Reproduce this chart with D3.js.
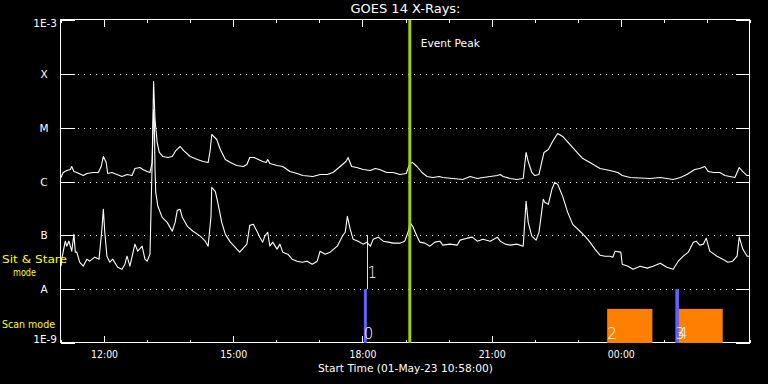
<!DOCTYPE html>
<html>
<head>
<meta charset="utf-8">
<script src="https://cdn.jsdelivr.net/npm/d3@7"></script>
<style>
  body { margin: 0; background: #000; }
  svg { display: block; background: #000; }
  text { font-family: "DejaVu Sans", sans-serif; fill: #fff; }
</style>
</head>
<body>
<svg id="chart" width="768" height="384"></svg>
<script>
// GOES 14 X-ray flux, 1-8 A (long) and 0.5-4 A (short) channels, W/m^2
const longTimes = ["11:00","11:03","11:08","11:13","11:15","11:18","11:22","11:31","11:36","11:45",
  "11:52","11:56","11:59","12:03","12:05","12:11","12:18","12:25","12:32","12:39",
  "12:43","12:50","12:54","13:00","13:04","13:07","13:09","13:11","13:14","13:17",
  "13:22","13:29","13:35","13:40","13:46","13:51","14:00","14:10","14:18","14:25",
  "14:28","14:30","14:37","14:42","14:49","14:56","15:05","15:14","15:19","15:23",
  "15:29","15:35","15:41","15:46","15:48","15:51","16:01","16:09","16:19","16:29",
  "16:37","16:51","17:01","17:11","17:19","17:29","17:37","17:40","17:45","17:52",
  "18:01","18:11","18:18","18:24","18:34","18:43","18:52","19:01","19:06","19:10",
  "19:16","19:23","19:30","19:38","19:47","19:52","20:06","20:20","20:30","20:40",
  "20:48","20:58","21:08","21:12","21:16","21:26","21:35","21:44","21:48","21:51",
  "21:56","22:00","22:06","22:10","22:13","22:19","22:25","22:32","22:39","22:49",
  "22:59","23:07","23:17","23:31","23:45","23:56","00:02","00:13","00:41","00:55",
  "01:04","01:13","01:23","01:32","01:43","01:50","01:57","02:02","02:09","02:18",
  "02:25","02:39","02:45","02:50","02:56","03:00"];
const longFlux = [1.19e-6,1.47e-6,1.60e-6,1.67e-6,1.90e-6,1.53e-6,1.47e-6,1.29e-6,1.41e-6,1.47e-6,
  1.47e-6,1.90e-6,2.91e-6,2.25e-6,1.41e-6,1.47e-6,1.35e-6,1.24e-6,1.35e-6,1.29e-6,
  1.74e-6,1.82e-6,1.67e-6,1.53e-6,1.47e-6,2.25e-6,7.16e-5,1.41e-5,5.30e-6,3.46e-6,
  2.91e-6,2.79e-6,2.91e-6,3.76e-6,4.47e-6,3.76e-6,2.91e-6,2.56e-6,2.35e-6,2.25e-6,
  3.93e-6,7.47e-6,6.03e-6,3.93e-6,2.56e-6,2.25e-6,1.98e-6,1.90e-6,2.07e-6,2.79e-6,
  2.79e-6,2.56e-6,2.35e-6,2.25e-6,2.56e-6,2.16e-6,1.98e-6,1.90e-6,1.53e-6,1.41e-6,
  1.29e-6,1.24e-6,1.35e-6,1.35e-6,1.47e-6,1.90e-6,2.35e-6,2.79e-6,1.90e-6,1.82e-6,
  1.67e-6,1.60e-6,1.74e-6,1.67e-6,1.47e-6,1.47e-6,1.35e-6,1.41e-6,2.16e-6,2.25e-6,
  1.90e-6,1.47e-6,1.24e-6,1.19e-6,1.24e-6,1.19e-6,1.14e-6,1.09e-6,1.24e-6,1.14e-6,
  1.19e-6,1.24e-6,1.29e-6,1.35e-6,1.24e-6,1.14e-6,1.09e-6,1.14e-6,3.46e-6,2.35e-6,
  1.47e-6,1.29e-6,1.35e-6,2.35e-6,3.46e-6,3.93e-6,5.54e-6,7.79e-6,6.86e-6,4.87e-6,
  3.46e-6,2.67e-6,2.25e-6,1.74e-6,1.60e-6,1.47e-6,1.29e-6,1.19e-6,1.14e-6,1.19e-6,
  1.14e-6,1.09e-6,1.19e-6,1.35e-6,1.67e-6,1.74e-6,1.90e-6,1.53e-6,1.47e-6,1.47e-6,
  1.29e-6,1.19e-6,1.82e-6,1.53e-6,1.29e-6,1.29e-6];

const shortTimes = ["11:00","11:01","11:06","11:08","11:11","11:15","11:18","11:20","11:22","11:26",
  "11:31","11:36","11:40","11:47","11:53","11:57","11:59","12:01","12:04","12:08",
  "12:12","12:19","12:25","12:29","12:32","12:36","12:43","12:47","12:53","12:57",
  "13:00","13:04","13:07","13:09","13:10","13:11","13:12","13:15","13:21","13:28",
  "13:35","13:39","13:42","13:46","13:49","13:56","14:04","14:14","14:21","14:25",
  "14:29","14:30","14:35","14:39","14:44","14:49","14:56","15:00","15:05","15:09",
  "15:14","15:19","15:23","15:28","15:33","15:37","15:41","15:44","15:48","15:51",
  "15:55","16:01","16:05","16:09","16:16","16:22","16:29","16:36","16:43","16:50",
  "16:57","17:01","17:08","17:15","17:25","17:32","17:36","17:39","17:43","17:47",
  "17:54","18:01","18:06","18:11","18:15","18:22","18:29","18:36","18:43","18:52",
  "18:59","19:04","19:06","19:10","19:16","19:20","19:27","19:34","19:41","19:48",
  "19:52","20:02","20:12","20:16","20:26","20:33","20:40","20:48","20:58","21:08",
  "21:12","21:19","21:26","21:35","21:44","21:48","21:51","21:56","22:02","22:06",
  "22:12","22:14","22:19","22:24","22:28","22:32","22:39","22:46","22:53","23:03",
  "23:10","23:17","23:24","23:31","23:38","23:45","23:49","23:52","00:00","00:02",
  "00:10","00:17","00:27","00:37","00:45","00:55","01:04","01:13","01:20","01:27",
  "01:34","01:41","01:45","01:50","01:55","01:59","02:04","02:14","02:22","02:29",
  "02:36","02:42","02:45","02:50","02:56","03:00"];
const shortFlux = [2.67e-8,3.61e-8,7.79e-8,6.29e-8,7.79e-8,5.08e-8,1.04e-7,4.87e-8,4.87e-8,3.17e-8,
  2.67e-8,3.61e-8,3.31e-8,3.93e-8,3.61e-8,1.29e-7,3.04e-7,1.14e-7,4.10e-8,3.17e-8,
  3.61e-8,2.56e-8,2.35e-8,2.91e-8,4.10e-8,2.67e-8,6.86e-8,5.08e-8,6.29e-8,3.61e-8,
  3.31e-8,4.47e-8,2.25e-6,2.16e-5,1.41e-5,1.67e-6,6.29e-7,3.46e-7,2.16e-7,1.74e-7,
  1.19e-7,1.74e-7,2.91e-7,3.04e-7,2.16e-7,1.47e-7,1.19e-7,9.65e-8,7.79e-8,6.29e-8,
  2.25e-7,7.79e-7,6.57e-7,3.76e-7,1.74e-7,1.04e-7,7.47e-8,6.57e-8,5.54e-8,4.87e-8,
  5.78e-8,6.86e-8,1.53e-7,1.60e-7,1.19e-7,9.25e-8,7.47e-8,9.65e-8,1.14e-7,6.29e-8,
  7.47e-8,5.54e-8,6.86e-8,4.87e-8,4.47e-8,3.61e-8,3.31e-8,3.17e-8,3.31e-8,2.91e-8,
  3.31e-8,5.08e-8,4.47e-8,4.87e-8,6.29e-8,9.65e-8,1.14e-7,2.25e-7,1.29e-7,8.49e-8,
  7.79e-8,6.86e-8,7.47e-8,6.29e-8,8.49e-8,9.25e-8,7.79e-8,7.47e-8,7.16e-8,7.16e-8,
  7.79e-8,1.19e-7,1.74e-7,1.47e-7,9.65e-8,7.47e-8,7.16e-8,6.29e-8,7.47e-8,7.79e-8,
  6.57e-8,6.86e-8,6.57e-8,8.14e-8,8.86e-8,9.25e-8,7.79e-8,8.49e-8,7.79e-8,9.25e-8,
  7.79e-8,6.86e-8,6.57e-8,6.86e-8,6.29e-8,4.28e-7,1.74e-7,9.65e-8,8.14e-8,1.14e-7,
  4.66e-7,4.10e-7,3.76e-7,7.16e-7,9.65e-7,8.86e-7,5.30e-7,2.67e-7,1.60e-7,1.19e-7,
  9.65e-8,7.47e-8,5.54e-8,4.28e-8,4.10e-8,4.10e-8,3.93e-8,5.08e-8,4.87e-8,2.91e-8,
  2.67e-8,2.35e-8,2.67e-8,2.46e-8,2.67e-8,3.04e-8,2.56e-8,2.35e-8,3.31e-8,4.10e-8,
  4.87e-8,7.47e-8,7.79e-8,6.57e-8,6.86e-8,8.86e-8,5.08e-8,4.10e-8,3.61e-8,3.17e-8,
  3.31e-8,4.10e-8,9.25e-8,5.54e-8,4.10e-8,4.10e-8];

// axes
const timeStart = "11:00";
const timeEnd = "03:00";
const hourTicks = ["11:00","12:00","13:00","14:00","15:00","16:00","17:00","18:00","19:00",
  "20:00","21:00","22:00","23:00","00:00","01:00","02:00","03:00"];
const majorTicks = ["12:00","15:00","18:00","21:00","00:00"];
const yTickFlux = [1e-3, 1e-4, 1e-5, 1e-6, 1e-7, 1e-8, 1e-9];
const yTickLabels = ["1E-3", "X", "M", "C", "B", "A", "1E-9"];
const classFlux = [1e-4, 1e-5, 1e-6, 1e-7, 1e-8];

// event peak and instrument mode intervals
const eventPeakTime = "19:06";
const modeIds = ["0", "1", "2", "3", "4"];
const modeKinds = ["scan", "stare", "window", "scan", "window"];
const modeStarts = ["18:02", "18:07", "23:41", "01:16", "01:20"];
const modeEnds = ["18:06", "18:07", "00:44", "01:21", "02:22"];

const parseTime = d3.timeParse("%Y-%m-%d %H:%M");
function toDate(hm) {
    // everything before 11:00 belongs to the next day
    var day = +hm.slice(0, 2) < 11 ? "2023-05-02" : "2023-05-01";
    return parseTime(day + " " + hm);
}

var margin = { top: 20, right: 18, bottom: 41, left: 61 },
    width = 768 - margin.left - margin.right,
    height = 384 - margin.top - margin.bottom;

var svg = d3.select("#chart");

var x = d3.scaleTime()
    .domain([toDate(timeStart), toDate(timeEnd)])
    .range([margin.left, margin.left + width]);

var y = d3.scaleLog()
    .domain([1e-9, 1e-3])
    .range([margin.top + height, margin.top]);

var longData = longTimes.map(function (t, i) { return { t: toDate(t), v: longFlux[i] }; });
var shortData = shortTimes.map(function (t, i) { return { t: toDate(t), v: shortFlux[i] }; });

function snap(v) { return Math.round(v) + 0.5; }

// dotted class lines
svg.append("g")
    .selectAll("line")
    .data(classFlux)
    .enter().append("line")
    .attr("x1", margin.left)
    .attr("x2", margin.left + width)
    .attr("y1", function (d) { return snap(y(d)); })
    .attr("y2", function (d) { return snap(y(d)); })
    .attr("stroke", "#fff")
    .attr("stroke-dasharray", "1,5")
    .attr("stroke-dashoffset", 1)
    .attr("shape-rendering", "crispEdges");

// time ticks, hourly minor and 3-hourly major, on bottom and top
function styleAxis(g) {
    g.select(".domain").remove();
    g.selectAll(".tick line").attr("stroke", "#fff").attr("shape-rendering", "crispEdges");
    g.selectAll("text").attr("fill", "#fff").style("font-size", "10px")
        .attr("textLength", 27).attr("lengthAdjust", "spacingAndGlyphs");
}
svg.append("g")
    .attr("transform", "translate(0," + (margin.top + height) + ")")
    .call(d3.axisBottom(x).tickValues(hourTicks.map(toDate)).tickSize(-3).tickFormat(""))
    .call(styleAxis);
svg.append("g")
    .attr("transform", "translate(0," + (margin.top + height) + ")")
    .call(d3.axisBottom(x).tickValues(majorTicks.map(toDate)).tickSize(-7).tickPadding(8)
        .tickFormat(d3.timeFormat("%H:%M")))
    .call(styleAxis);
svg.append("g")
    .attr("transform", "translate(0," + margin.top + ")")
    .call(d3.axisTop(x).tickValues(hourTicks.map(toDate)).tickSize(-3).tickFormat(""))
    .call(styleAxis);
svg.append("g")
    .attr("transform", "translate(0," + margin.top + ")")
    .call(d3.axisTop(x).tickValues(majorTicks.map(toDate)).tickSize(-7).tickFormat(""))
    .call(styleAxis);

// flux ticks left and right
svg.append("g")
    .attr("transform", "translate(" + margin.left + ",0)")
    .call(d3.axisLeft(y).tickValues(yTickFlux).tickSize(-14).tickFormat(""))
    .call(styleAxis);
svg.append("g")
    .attr("transform", "translate(" + (margin.left + width) + ",0)")
    .call(d3.axisRight(y).tickValues(yTickFlux).tickSize(-14).tickFormat(""))
    .call(styleAxis);

svg.selectAll(".ylabel")
    .data(yTickFlux)
    .enter().append("text")
    .attr("class", "ylabel")
    .attr("x", function (d, i) { return (i === 0 || i === yTickFlux.length - 1) ? 57 : 44; })
    .attr("y", function (d, i) {
        if (i === 0) return y(d) + 7;
        if (i === yTickFlux.length - 1) return y(d);
        return y(d) + 4;
    })
    .attr("text-anchor", function (d, i) { return (i === 0 || i === yTickFlux.length - 1) ? "end" : "middle"; })
    .style("font-size", "10.5px")
    .text(function (d, i) { return yTickLabels[i]; });

// plot frame
svg.append("rect")
    .attr("x", margin.left - 0.5)
    .attr("y", margin.top - 0.5)
    .attr("width", width)
    .attr("height", height)
    .attr("fill", "none")
    .attr("stroke", "#fff")
    .attr("shape-rendering", "crispEdges");

// mode intervals
var modes = modeIds.map(function (id, i) {
    return { id: id, kind: modeKinds[i], start: toDate(modeStarts[i]), end: toDate(modeEnds[i]) };
});
var windowTop = 4.3e-9;

svg.selectAll(".window")
    .data(modes.filter(function (d) { return d.kind === "window"; }))
    .enter().append("rect")
    .attr("class", "window")
    .attr("x", function (d) { return x(d.start); })
    .attr("y", y(windowTop))
    .attr("width", function (d) { return x(d.end) - x(d.start); })
    .attr("height", y(1e-9) - y(windowTop))
    .attr("fill", "#ff8000");

svg.selectAll(".scan")
    .data(modes.filter(function (d) { return d.kind === "scan"; }))
    .enter().append("rect")
    .attr("class", "scan")
    .attr("x", function (d) { return x(d.start); })
    .attr("y", y(1e-8))
    .attr("width", function (d) { return Math.max(3, x(d.end) - x(d.start)); })
    .attr("height", y(1e-9) - y(1e-8))
    .attr("fill", "#6262ff");

svg.selectAll(".stare")
    .data(modes.filter(function (d) { return d.kind === "stare"; }))
    .enter().append("line")
    .attr("class", "stare")
    .attr("x1", function (d) { return snap(x(d.start)); })
    .attr("x2", function (d) { return snap(x(d.start)); })
    .attr("y1", y(1e-7))
    .attr("y2", y(1e-8))
    .attr("stroke", "#ffff00")
    .attr("shape-rendering", "crispEdges");

// flux curves
var line = d3.line()
    .x(function (d) { return x(d.t); })
    .y(function (d) { return y(d.v); });

[longData, shortData].forEach(function (data) {
    svg.append("path")
        .datum(data)
        .attr("d", line)
        .attr("fill", "none")
        .attr("stroke", "#fff")
        .attr("stroke-width", 1.1)
        .attr("stroke-linejoin", "round");
});

// event peak marker
var peakX = x(toDate(eventPeakTime));
svg.append("line")
    .attr("x1", peakX).attr("x2", peakX)
    .attr("y1", margin.top).attr("y2", margin.top + height)
    .attr("stroke", "#a0d010")
    .attr("stroke-width", 3);
svg.append("text")
    .attr("x", peakX + 11)
    .attr("y", 47)
    .style("font-size", "11px")
    .attr("textLength", 59)
    .attr("lengthAdjust", "spacingAndGlyphs")
    .text("Event Peak");

// mode numbers (3 and 4 start almost together and overlap, as in the original)
svg.selectAll(".modeid")
    .data(modes)
    .enter().append("text")
    .attr("class", "modeid")
    .attr("x", function (d) { return x(d.start); })
    .attr("y", function (d) { return d.kind === "stare" ? 278 : 339; })
    .style("font-size", "15px")
    .style("font-weight", 200)
    .text(function (d) { return d.id; });

// titles
svg.append("text")
    .attr("x", margin.left + width / 2)
    .attr("y", 13)
    .attr("text-anchor", "middle")
    .style("font-size", "11.5px")
    .attr("textLength", 110)
    .attr("lengthAdjust", "spacingAndGlyphs")
    .text("GOES 14 X-Rays:");

svg.append("text")
    .attr("x", margin.left + width / 2)
    .attr("y", 372)
    .attr("text-anchor", "middle")
    .style("font-size", "10.6px")
    .attr("textLength", 175)
    .attr("lengthAdjust", "spacingAndGlyphs")
    .text("Start Time (01-May-23 10:58:00)");

// mode legend on the left
var legend = [
    { text: "Sit & Stare", x: 2, y: 263, len: 65 },
    { text: "mode", x: 13, y: 276, len: 23 },
    { text: "Scan mode", x: 2, y: 328, len: 53 }
];
svg.selectAll(".legend")
    .data(legend)
    .enter().append("text")
    .attr("class", "legend")
    .attr("x", function (d) { return d.x; })
    .attr("y", function (d) { return d.y; })
    .attr("textLength", function (d) { return d.len; })
    .attr("lengthAdjust", "spacingAndGlyphs")
    .style("font-size", "10.5px")
    .style("fill", "#ffff00")
    .text(function (d) { return d.text; });
</script>
</body>
</html>
